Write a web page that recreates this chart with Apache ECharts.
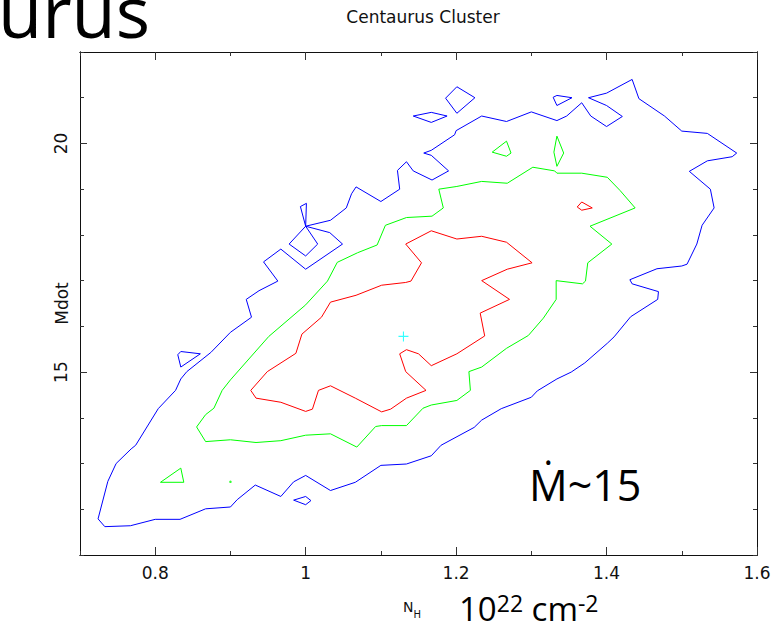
<!DOCTYPE html>
<html>
<head>
<meta charset="utf-8">
<script src="https://cdn.jsdelivr.net/npm/echarts@6/dist/echarts.min.js"></script>
<style>
  html, body { margin: 0; padding: 0; background: #fff; }
  #chart { width: 784px; height: 630px; }
</style>
</head>
<body>
<div id="chart"></div>
<script>
// Axis ranges and tick labels
const nhRange = [0.7, 1.6];
const mdotRange = [11, 22];
const nhLabels = [0.8, 1, 1.2, 1.4, 1.6];
const mdotLabels = [15, 20];

// Confidence contours as [N_H, Mdot] vertices
const blueOuter = [
  [0.724,11.79],[0.733,11.62],[0.767,11.64],[0.800,11.78],[0.833,11.78],[0.867,12.01],[0.900,12.05],
  [0.909,12.21],[0.933,12.53],[0.967,12.28],[0.984,12.60],[1.000,12.74],[1.033,12.41],[1.066,12.59],
  [1.100,12.96],[1.134,12.99],[1.167,13.17],[1.180,13.40],[1.224,13.79],[1.234,13.95],[1.260,14.20],
  [1.300,14.45],[1.308,14.59],[1.334,14.85],[1.353,15.00],[1.371,15.20],[1.401,15.63],[1.410,15.77],
  [1.432,16.21],[1.468,16.59],[1.469,16.76],[1.434,16.93],[1.431,17.02],[1.467,17.26],[1.500,17.32],
  [1.507,17.36],[1.520,17.80],[1.527,18.21],[1.543,18.59],[1.538,19.00],[1.510,19.39],[1.534,19.62],
  [1.567,19.71],[1.573,19.79],[1.534,20.22],[1.500,20.27],[1.477,20.60],[1.443,20.98],[1.434,21.40],
  [1.400,21.10],[1.376,21.00],[1.400,20.83],[1.421,20.59],[1.400,20.37],[1.379,20.60],[1.367,20.89],
  [1.347,20.60],[1.334,20.50],[1.300,20.69],[1.267,20.48],[1.234,20.60],[1.200,20.28],[1.198,20.19],
  [1.167,19.85],[1.157,19.79],[1.167,19.74],[1.190,19.40],[1.168,19.20],[1.143,19.40],[1.134,19.60],
  [1.122,19.41],[1.125,19.00],[1.100,18.73],[1.067,19.05],[1.061,18.90],[1.054,18.59],[1.033,18.32],
  [1.000,18.19],[1.032,18.05],[1.049,17.80],[1.000,17.25],[0.967,17.69],[0.944,17.41],[0.963,16.99],
  [0.938,16.78],[0.921,16.59],[0.928,16.20],[0.900,15.87],[0.874,15.43],[0.842,15.01],[0.834,14.85],
  [0.827,14.60],[0.804,14.20],[0.774,13.40],[0.768,13.32],[0.748,13.00],[0.737,12.61],[0.724,11.79]
];
const blueLoopA = [[1.000,18.19],[0.993,18.62],[1.001,18.69],[1.000,18.19]];
const blueLoopB = [[1.000,18.19],[0.978,17.80],[1.000,17.54],[1.016,17.80],[1.000,18.19]];
const blueIsleA = [[1.186,20.99],[1.201,21.24],[1.225,21.00],[1.201,20.66],[1.186,20.99]];
const blueIsleB = [[1.143,20.60],[1.167,20.68],[1.188,20.60],[1.167,20.46],[1.143,20.60]];
const blueIsleC = [[1.329,21.01],[1.334,21.05],[1.354,21.00],[1.334,20.83],[1.329,21.01]];
const blueIsleD = [[0.830,15.38],[0.834,15.45],[0.860,15.40],[0.834,15.11],[0.830,15.38]];
const blueIsleE = [[0.984,12.20],[1.000,12.28],[1.007,12.19],[1.000,12.10],[0.984,12.20]];

const greenMain = [
  [0.855,13.80],[0.867,13.48],[0.900,13.52],[0.934,13.46],[0.967,13.50],[1.000,13.62],[1.033,13.65],
  [1.068,13.36],[1.093,13.81],[1.101,13.83],[1.134,13.83],[1.156,14.21],[1.167,14.28],[1.201,14.38],
  [1.219,14.60],[1.217,15.01],[1.234,15.11],[1.267,15.52],[1.296,15.80],[1.316,16.18],[1.333,16.59],
  [1.333,17.00],[1.368,16.93],[1.372,16.99],[1.375,17.39],[1.407,17.80],[1.378,18.19],[1.438,18.59],
  [1.418,18.97],[1.401,19.26],[1.367,19.35],[1.334,19.35],[1.331,19.40],[1.302,19.48],[1.268,19.13],
  [1.234,19.17],[1.201,19.06],[1.177,19.00],[1.183,18.59],[1.168,18.41],[1.134,18.38],[1.106,18.21],
  [1.095,17.78],[1.069,17.61],[1.042,17.40],[1.029,16.99],[1.000,16.47],[0.951,15.78],[0.900,14.83],
  [0.889,14.60],[0.878,14.21],[0.867,14.07],[0.855,13.80]
];
const greenIsleA = [[1.248,19.81],[1.267,20.05],[1.273,19.79],[1.267,19.72],[1.248,19.81]];
const greenIsleB = [[1.334,20.16],[1.343,19.79],[1.334,19.50],[1.330,19.81],[1.334,20.16]];
const greenIsleC = [[0.807,12.59],[0.834,12.90],[0.838,12.59],[0.807,12.59]];
const greenSpot = [[0.900,12.60]];

const redMain = [
  [0.927,14.60],[0.934,14.43],[0.967,14.34],[1.000,14.14],[1.009,14.19],[1.017,14.60],[1.033,14.70],
  [1.066,14.43],[1.101,14.13],[1.113,14.19],[1.134,14.43],[1.160,14.60],[1.133,15.01],[1.125,15.40],
  [1.134,15.49],[1.150,15.40],[1.167,15.14],[1.201,15.40],[1.238,15.79],[1.232,16.29],[1.271,16.59],
  [1.234,17.00],[1.268,17.25],[1.301,17.39],[1.267,17.84],[1.234,17.97],[1.201,17.91],[1.167,18.09],
  [1.133,17.80],[1.154,17.39],[1.140,16.99],[1.133,16.96],[1.101,16.90],[1.067,16.68],[1.033,16.53],
  [1.021,16.20],[0.995,15.83],[0.987,15.41],[0.949,15.01],[0.927,14.60]
];
const redIsle = [[1.361,18.61],[1.367,18.72],[1.381,18.59],[1.367,18.54],[1.361,18.61]];

// Best-fit position
const bestFit = [[1.130,15.78]];

const BLUE = '#0000ff', GREEN = '#00ff00', RED = '#ff0000', CYAN = '#00ffff';
const TICK_FONT = 'DejaVu Sans';

function contour(data, color) {
  return {
    type: 'line', data: data, showSymbol: false, silent: true, animation: false,
    lineStyle: { color: color, width: 1 }, z: 3
  };
}

const series = [
  contour(blueOuter, BLUE), contour(blueLoopA, BLUE), contour(blueLoopB, BLUE),
  contour(blueIsleA, BLUE), contour(blueIsleB, BLUE), contour(blueIsleC, BLUE),
  contour(blueIsleD, BLUE), contour(blueIsleE, BLUE),
  contour(greenMain, GREEN), contour(greenIsleA, GREEN), contour(greenIsleB, GREEN),
  contour(greenIsleC, GREEN),
  contour(redMain, RED), contour(redIsle, RED),
  { type: 'scatter', data: greenSpot, symbol: 'circle', symbolSize: 2.5, silent: true,
    itemStyle: { color: GREEN }, animation: false },
  { type: 'scatter', data: bestFit, silent: true, animation: false, symbolSize: 10,
    symbol: 'path://M4.45,0H5.55V4.45H10V5.55H5.55V10H4.45V5.55H0V4.45H4.45Z',
    itemStyle: { color: CYAN }, z: 5 }
];

const fmt = v => String(+(+v).toFixed(1));
const lineStyle = { show: true, lineStyle: { color: '#111', width: 1 } };

function xAxisDef(pos, major, withLabels) {
  return {
    type: 'value', position: pos, min: nhRange[0], max: nhRange[1], interval: 0.1,
    axisLine: lineStyle, splitLine: { show: false },
    axisTick: major
      ? { show: true, inside: true, length: 8, customValues: nhLabels, lineStyle: { color: '#333' } }
      : { show: true, inside: true, length: 4, lineStyle: { color: '#333' } },
    axisLabel: withLabels
      ? { show: true, customValues: nhLabels, formatter: fmt, fontFamily: TICK_FONT, fontSize: 17,
          color: '#111', margin: 9 }
      : { show: false }
  };
}
function yAxisDef(pos, major, withLabels) {
  const ax = {
    type: 'value', position: pos, min: mdotRange[0], max: mdotRange[1], interval: 1,
    axisLine: lineStyle, splitLine: { show: false },
    axisTick: major
      ? { show: true, inside: true, length: 7, customValues: mdotLabels, lineStyle: { color: '#333' } }
      : { show: true, inside: true, length: 4, lineStyle: { color: '#333' } },
    axisLabel: withLabels
      ? { show: true, customValues: mdotLabels, rotate: 90, fontFamily: TICK_FONT, fontSize: 17,
          color: '#111', margin: 11 }
      : { show: false }
  };
  if (withLabels) {
    ax.name = 'Mdot';
    ax.nameLocation = 'middle';
    ax.nameRotate = 90;
    ax.nameGap = 10;
    ax.nameMoveOverlap = false;
    ax.nameTextStyle = { fontFamily: TICK_FONT, fontSize: 17, color: '#111' };
  }
  return ax;
}

const chart = echarts.init(document.getElementById('chart'), null, { renderer: 'svg' });
chart.setOption({
  animation: false,
  backgroundColor: '#fff',
  title: {
    text: 'Centaurus Cluster', left: 418, top: 3, textAlign: 'center',
    textStyle: { fontFamily: TICK_FONT, fontSize: 17, fontWeight: 'normal', color: '#111' }
  },
  grid: { left: 80, top: 52, width: 677, height: 503, containLabel: false },
  xAxis: [
    xAxisDef('bottom', true, true), xAxisDef('bottom', false, false),
    xAxisDef('top', true, false), xAxisDef('top', false, false)
  ],
  yAxis: [
    yAxisDef('left', true, true), yAxisDef('left', false, false),
    yAxisDef('right', true, false), yAxisDef('right', false, false)
  ],
  series: series,
  graphic: [
    { type: 'text', left: -2, top: -26, silent: true,
      style: { text: 'urus', fontFamily: 'Open Sans', fontSize: 72, fill: '#000' } },
    { type: 'text', x: 529, y: 462.5, silent: true,
      style: { text: 'Ṁ~15', fontFamily: 'Open Sans', fontSize: 43, fill: '#000', verticalAlign: 'top' } },
    { type: 'text', x: 403, y: 600, silent: true,
      style: { text: '{n|N}{s|H}', verticalAlign: 'top',
        rich: { n: { fontFamily: TICK_FONT, fontSize: 14, fill: '#111', verticalAlign: 'top', lineHeight: 19 },
                s: { fontFamily: TICK_FONT, fontSize: 10, fill: '#111', verticalAlign: 'bottom', lineHeight: 19 } } } },
    { type: 'text', x: 459, y: 591, silent: true,
      style: { text: '{b|10}{p|22}{b| cm}{p|-2}', verticalAlign: 'top',
        rich: { b: { fontFamily: 'Open Sans', fontSize: 33, fill: '#000', verticalAlign: 'bottom', lineHeight: 34 },
                p: { fontFamily: 'Open Sans', fontSize: 23, fill: '#000', verticalAlign: 'top', lineHeight: 34 } } } }
  ]
});
</script>
</body>
</html>
